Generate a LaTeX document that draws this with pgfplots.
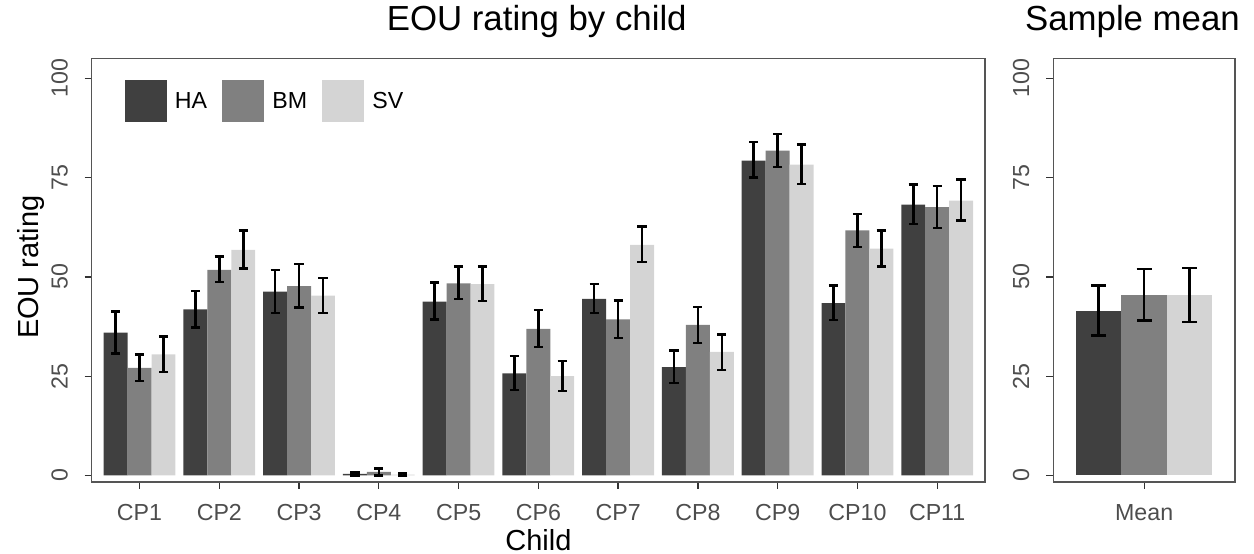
\documentclass[border=0pt]{standalone}
\usepackage{pgfplots}
\pgfplotsset{compat=1.18}
\usepackage{pgfplotstable}
\usepackage{fontspec}
\setmainfont{Liberation Sans}

\definecolor{cHA}{RGB}{64,64,64}
\definecolor{cBM}{RGB}{128,128,128}
\definecolor{cSV}{RGB}{212,212,212}
\definecolor{tickgray}{RGB}{77,77,77}
\definecolor{framegray}{RGB}{85,85,85}

% x = child index - 0.3 (HA), index (BM), index + 0.3 (SV)
\pgfplotstableread{
x y ep em
0.7 36.0 5.3 5.3
1.7 41.8 4.7 4.5
2.7 46.3 5.4 5.4
3.7 0.4 0.4 0.4
4.7 43.8 4.8 4.5
5.7 25.7 4.4 4.2
6.7 44.5 3.7 3.6
7.7 27.3 4.2 4.0
8.7 79.3 4.6 4.3
9.7 43.4 4.4 4.2
10.7 68.2 5.1 4.9
}\tblHA
\pgfplotstableread{
x y ep em
1 27.1 3.4 3.3
2 51.8 3.3 3.1
3 47.7 5.6 5.4
4 0.9 0.9 0.9
5 48.4 4.2 4.0
6 36.9 4.7 4.6
7 39.3 4.8 4.7
8 37.9 4.6 4.5
9 81.8 4.2 4.1
10 61.7 4.1 4.1
11 67.6 5.3 5.3
}\tblBM
\pgfplotstableread{
x y ep em
1.3 30.5 4.5 4.5
2.3 56.8 4.9 4.7
3.3 45.3 4.5 4.4
4.3 0.2 0.3 0.3
5.3 48.2 4.4 4.2
6.3 25.0 3.9 3.8
7.3 58.1 4.6 4.3
8.3 31.1 4.4 4.5
9.3 78.3 5.0 4.9
10.3 57.1 4.6 4.5
11.3 69.2 5.3 5.0
}\tblSV
\pgfplotstableread{
x y ep em
0.7 41.5 6.3 6.3
1.0 45.5 6.5 6.5
1.3 45.4 6.9 6.7
}\tblMean

\pgfplotsset{
  eoustyle/.style={
    scale only axis,
    height=423.5bp,
    ymin=-1.64, ymax=105,
    ytick={0,25,50,75,100},
    yticklabels={0,25,50,75,100},
    tick align=outside,
    xtick pos=bottom, ytick pos=left,
    major tick length=7bp,
    tick style={line width=1.3bp, color=black!80},
    axis line style={line width=1.1bp, color=framegray},
    ticklabel style={font=\fontsize{23.2bp}{28bp}\selectfont, text=tickgray},
    yticklabel style={inner sep=0pt, anchor=south, xshift=-16.7bp, rotate=90},
    xticklabel style={inner sep=0pt, anchor=base, yshift=-31.3bp},
    ybar, bar width=0.3,
    title style={at={(axis description cs:0.5,1)}, anchor=base, inner sep=0pt,
      yshift=22bp, font=\fontsize{34.8bp}{40bp}\selectfont},
    error bars/y dir=both, error bars/y explicit,
    error bars/error bar style={draw=black, line width=2.6bp},
    error bars/error mark options={rotate=90, draw=black, line width=2.4bp, mark size=#1},
  },
  eoustyle/.default=4.6bp,
  barplot/.style={draw=none, fill=#1, bar shift=0pt},
}

\begin{document}
\begin{tikzpicture}
\path[use as bounding box] (0,0) rectangle (1254bp,554bp);

\begin{axis}[eoustyle=4.6bp,
  at={(91.7bp,72bp)}, anchor=south west,
  width=893.3bp,
  xmin=0.4, xmax=11.6,
  xtick={1,2,3,4,5,6,7,8,9,10,11},
  xticklabels={CP1,CP2,CP3,CP4,CP5,CP6,CP7,CP8,CP9,CP10,CP11},
  title={EOU rating by child},
  title style={xshift=-1.6bp},
  xlabel={Child},
  ylabel={EOU rating},
  every axis x label/.style={at={(axis description cs:0.5,0)}, yshift=-68bp, anchor=base, inner sep=0pt, font=\fontsize{29bp}{34bp}\selectfont},
  every axis y label/.style={at={(axis description cs:0,0.5)}, xshift=-53.7bp, yshift=3bp, rotate=90, anchor=base, inner sep=0pt, font=\fontsize{29bp}{34bp}\selectfont},
  legend image code/.code={\fill[#1] (0bp,-21bp) rectangle (42bp,21bp);},
  legend style={draw=none, fill=none, legend columns=3,
    at={(axis description cs:0.0365,0.899)}, anchor=west, inner sep=0pt,
    nodes={inner sep=0pt, font=\fontsize{23.2bp}{28bp}\selectfont, text=black},
    /tikz/every even column/.append style={column sep=15bp},
    /tikz/every odd column/.append style={column sep=8.3bp}},
]
\addplot[barplot=cHA] table[x=x, y=y, y error plus=ep, y error minus=em] {\tblHA};
\addlegendentry{HA}
\addplot[barplot=cBM] table[x=x, y=y, y error plus=ep, y error minus=em] {\tblBM};
\addlegendentry{BM}
\addplot[barplot=cSV] table[x=x, y=y, y error plus=ep, y error minus=em] {\tblSV};
\addlegendentry{SV}
\end{axis}

\begin{axis}[eoustyle=7.5bp,
  at={(1053.3bp,72bp)}, anchor=south west,
  width=181.7bp,
  xmin=0.4, xmax=1.6,
  xtick={1}, xticklabels={Mean},
  title={Sample mean},
  title style={xshift=-11.7bp},
]
\addplot[barplot=cHA] table[x=x, y=y, y error plus=ep, y error minus=em, skip coords between index={1}{3}] {\tblMean};
\addplot[barplot=cBM] table[x=x, y=y, y error plus=ep, y error minus=em, skip coords between index={0}{1}, skip coords between index={2}{3}] {\tblMean};
\addplot[barplot=cSV] table[x=x, y=y, y error plus=ep, y error minus=em, skip coords between index={0}{2}] {\tblMean};
\end{axis}
\end{tikzpicture}
\end{document}
